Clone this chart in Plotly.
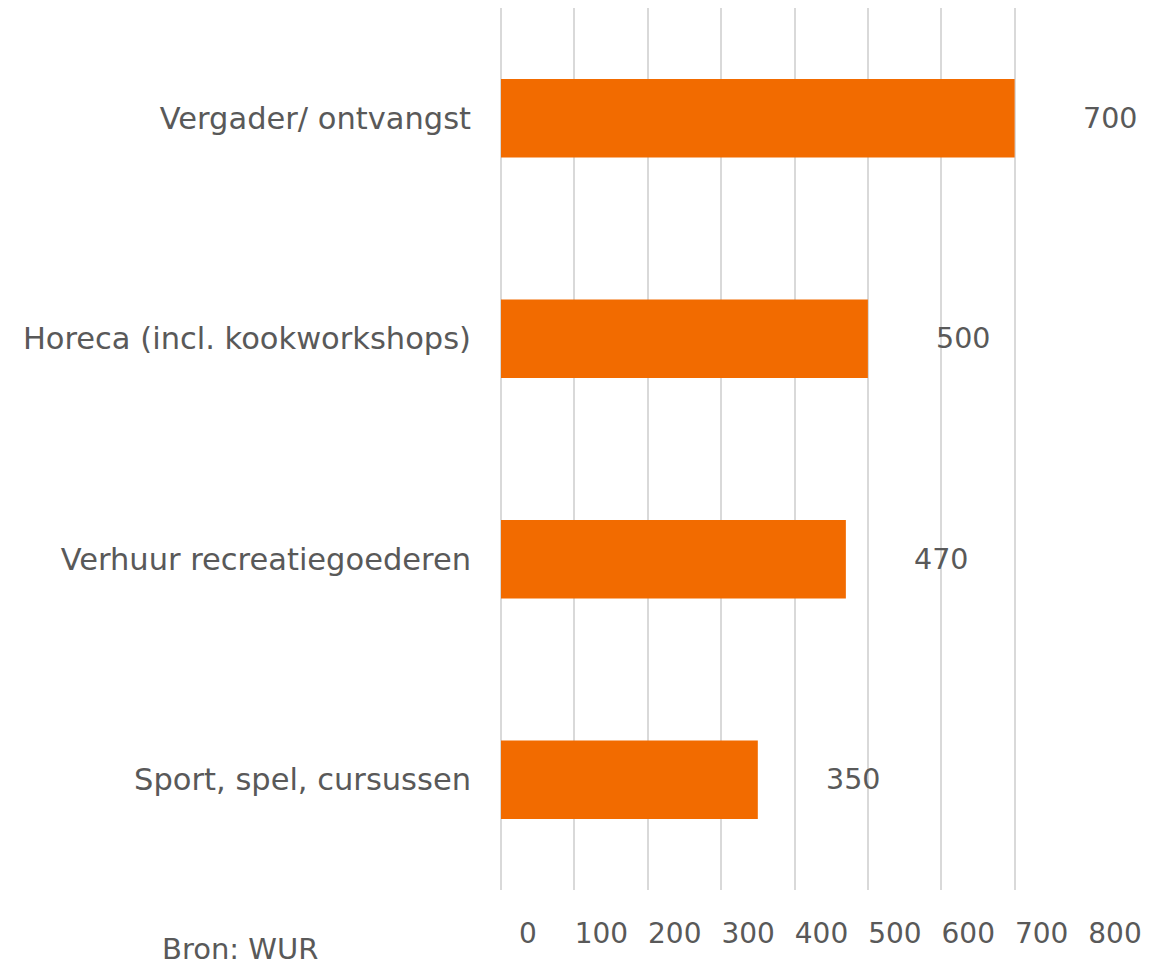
import plotly.graph_objects as go

categories = ["Vergader/ ontvangst", "Horeca (incl. kookworkshops)", "Verhuur recreatiegoederen", "Sport, spel, cursussen"]
values = [700, 500, 470, 350]
tick_values = [0, 100, 200, 300, 400, 500, 600, 700, 800]
tick_labels = ["0", "100", "200", "300", "400", "500", "600", "700", "800"]
source_text = "Bron: WUR"

FONT = "DejaVu Sans"
GREY = "#595959"

W, H = 1155, 969
ML, MR, MT, MB = 493, 75, 0, 87
PW, PH = W - ML - MR, H - MT - MB

fig = go.Figure()
fig.add_trace(go.Bar(
    x=values, y=categories, orientation="h",
    marker=dict(color="#F26B00", line=dict(width=0)),
    width=0.355, hoverinfo="skip",
))

for c, v in zip(categories, values):
    fig.add_annotation(x=v, y=c, text=str(v), showarrow=False, xanchor="center", yanchor="middle",
                       xshift=95, font=dict(family=FONT, size=28.5, color=GREY))

fig.add_annotation(x=(152 - ML) / PW, y=-(941 - (MT + PH)) / PH, xref="paper", yref="paper",
                   text=source_text, showarrow=False, xanchor="left", yanchor="middle",
                   font=dict(family=FONT, size=29, color=GREY))

fig.update_layout(
    width=W, height=H,
    margin=dict(l=ML, r=MR, t=MT, b=MB),
    paper_bgcolor="white", plot_bgcolor="white",
    showlegend=False,
    font=dict(family=FONT, color=GREY, size=29),
    xaxis=dict(range=[0, 800], tickvals=tick_values, ticktext=tick_labels, showgrid=True,
               gridcolor="#D9D9D9", gridwidth=1.5, zeroline=True, zerolinecolor="#D9D9D9",
               zerolinewidth=1.5, showline=False, ticks="", ticklabelshift=27, ticklabelstandoff=24,
               tickfont=dict(family=FONT, size=28, color=GREY), fixedrange=True),
    yaxis=dict(categoryorder="array", categoryarray=categories, autorange="reversed",
               showgrid=False, zeroline=False, showline=False, ticks="", ticklabelstandoff=29,
               tickfont=dict(family=FONT, size=30.5, color=GREY), fixedrange=True),
)

fig.write_html("out.html")
